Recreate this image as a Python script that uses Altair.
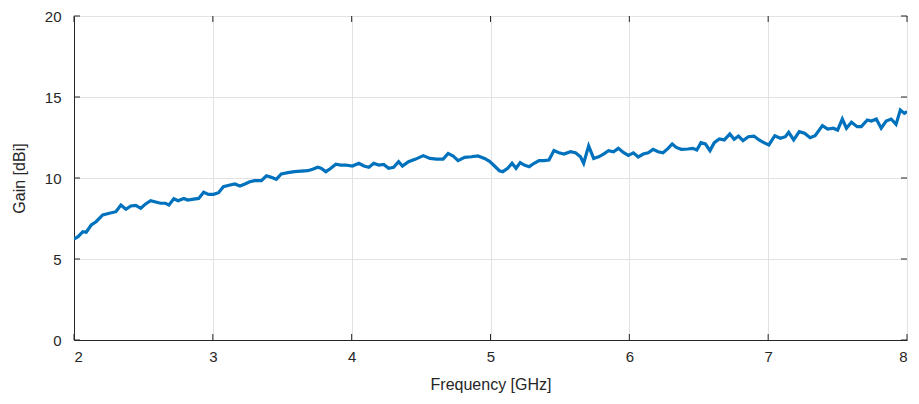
import altair as alt
import pandas as pd

freq_ghz = [2.000, 2.009, 2.029, 2.064, 2.088, 2.124, 2.159, 2.207, 2.255, 2.302, 2.338,
            2.374, 2.409, 2.445, 2.481, 2.516, 2.552, 2.588, 2.624, 2.659, 2.684,
            2.719, 2.750, 2.791, 2.819, 2.862, 2.898, 2.934, 2.969, 3.005, 3.041,
            3.076, 3.124, 3.159, 3.195, 3.231, 3.266, 3.302, 3.350, 3.386, 3.421,
            3.457, 3.493, 3.541, 3.588, 3.636, 3.684, 3.719, 3.755, 3.779, 3.814,
            3.850, 3.886, 3.921, 3.957, 4.005, 4.052, 4.088, 4.124, 4.159, 4.195,
            4.231, 4.266, 4.302, 4.338, 4.366, 4.409, 4.457, 4.516, 4.564, 4.612,
            4.659, 4.695, 4.731, 4.766, 4.814, 4.862, 4.909, 4.957, 4.993, 5.029,
            5.064, 5.088, 5.124, 5.155, 5.184, 5.214, 5.243, 5.279, 5.314, 5.350,
            5.386, 5.421, 5.457, 5.493, 5.529, 5.576, 5.612, 5.648, 5.671, 5.707,
            5.743, 5.779, 5.814, 5.850, 5.886, 5.921, 5.957, 5.993, 6.029, 6.064,
            6.100, 6.136, 6.171, 6.207, 6.243, 6.279, 6.309, 6.338, 6.374, 6.421,
            6.457, 6.486, 6.516, 6.548, 6.581, 6.612, 6.648, 6.684, 6.724, 6.755,
            6.786, 6.819, 6.857, 6.898, 6.934, 6.969, 7.005, 7.048, 7.088, 7.124,
            7.148, 7.184, 7.224, 7.262, 7.302, 7.338, 7.391, 7.429, 7.469, 7.500,
            7.534, 7.564, 7.600, 7.641, 7.671, 7.714, 7.743, 7.779, 7.814, 7.850,
            7.886, 7.921, 7.952, 7.981, 8.000]

gain_dbi = [6.25, 6.28, 6.38, 6.69, 6.65, 7.10, 7.30, 7.72, 7.82, 7.92, 8.33,
            8.07, 8.27, 8.31, 8.13, 8.40, 8.60, 8.52, 8.44, 8.44, 8.33,
            8.72, 8.60, 8.74, 8.64, 8.70, 8.74, 9.12, 8.99, 8.99, 9.09,
            9.46, 9.57, 9.63, 9.51, 9.63, 9.77, 9.84, 9.84, 10.14, 10.04,
            9.92, 10.25, 10.33, 10.39, 10.43, 10.45, 10.54, 10.66, 10.60, 10.39,
            10.60, 10.85, 10.80, 10.80, 10.74, 10.91, 10.74, 10.66, 10.91, 10.80,
            10.84, 10.60, 10.66, 11.01, 10.74, 11.01, 11.15, 11.38, 11.21, 11.17,
            11.17, 11.52, 11.36, 11.07, 11.27, 11.31, 11.36, 11.21, 11.03, 10.74,
            10.45, 10.39, 10.60, 10.91, 10.60, 10.95, 10.80, 10.70, 10.91, 11.07,
            11.07, 11.11, 11.69, 11.56, 11.48, 11.62, 11.56, 11.31, 10.91, 11.98,
            11.21, 11.31, 11.48, 11.69, 11.62, 11.83, 11.58, 11.40, 11.55, 11.30,
            11.48, 11.56, 11.77, 11.62, 11.56, 11.83, 12.10, 11.89, 11.77, 11.79,
            11.83, 11.73, 12.18, 12.10, 11.69, 12.18, 12.41, 12.35, 12.72, 12.39,
            12.59, 12.30, 12.55, 12.59, 12.35, 12.18, 12.04, 12.61, 12.45, 12.55,
            12.82, 12.35, 12.86, 12.76, 12.49, 12.61, 13.23, 13.02, 13.07, 12.96,
            13.64, 13.07, 13.44, 13.17, 13.17, 13.58, 13.52, 13.64, 13.07, 13.52,
            13.64, 13.31, 14.20, 13.99, 14.10]

x_ticks = [2, 3, 4, 5, 6, 7, 8]
y_ticks = [0, 5, 10, 15, 20]

W, H = 833, 324
FONT = "Liberation Sans"
TEXT = "#262626"

df = pd.DataFrame({"f": freq_ghz, "g": gain_dbi})
xt = pd.DataFrame({"t": x_ticks})
yt = pd.DataFrame({"t": y_ticks})

xscale = alt.Scale(domain=[2, 8], nice=False, zero=False)
yscale = alt.Scale(domain=[0, 20], nice=False)

line = alt.Chart(df).mark_line(color="#0072BD", strokeWidth=3.2, clip=True).encode(
    x=alt.X("f:Q", scale=xscale,
            axis=alt.Axis(title="Frequency [GHz]", values=x_ticks, tickSize=0,
                          labelPadding=9, titlePadding=12, format="d")),
    y=alt.Y("g:Q", scale=yscale,
            axis=alt.Axis(title="Gain [dBi]", values=y_ticks, tickSize=0,
                          labelPadding=13, titlePadding=17, format="d")),
)

xtick_bottom = alt.Chart(xt).mark_rule(color=TEXT, strokeWidth=1).encode(
    x=alt.X("t:Q", scale=xscale), y=alt.value(H), y2=alt.value(H - 6))
xtick_top = alt.Chart(xt).mark_rule(color=TEXT, strokeWidth=1).encode(
    x=alt.X("t:Q", scale=xscale), y=alt.value(0), y2=alt.value(6))
ytick_left = alt.Chart(yt).mark_rule(color=TEXT, strokeWidth=1).encode(
    y=alt.Y("t:Q", scale=yscale), x=alt.value(0), x2=alt.value(6))
ytick_right = alt.Chart(yt).mark_rule(color=TEXT, strokeWidth=1).encode(
    y=alt.Y("t:Q", scale=yscale), x=alt.value(W), x2=alt.value(W - 6))

chart = alt.layer(line, xtick_bottom, xtick_top, ytick_left, ytick_right).properties(
    width=W, height=H,
    autosize=alt.AutoSizeParams(type="none"),
    padding={"left": 66, "top": 8, "right": 4, "bottom": 54},
).configure_view(
    stroke=TEXT, strokeWidth=1
).configure_axis(
    grid=True, gridColor="#e2e2e2", gridWidth=1,
    domainColor=TEXT, domainWidth=1,
    labelFont=FONT, labelFontSize=15, labelColor=TEXT,
    titleFont=FONT, titleFontSize=16, titleColor=TEXT, titleFontWeight="normal",
)

chart.save("out.html", embed_options={"renderer": "svg", "actions": False})
